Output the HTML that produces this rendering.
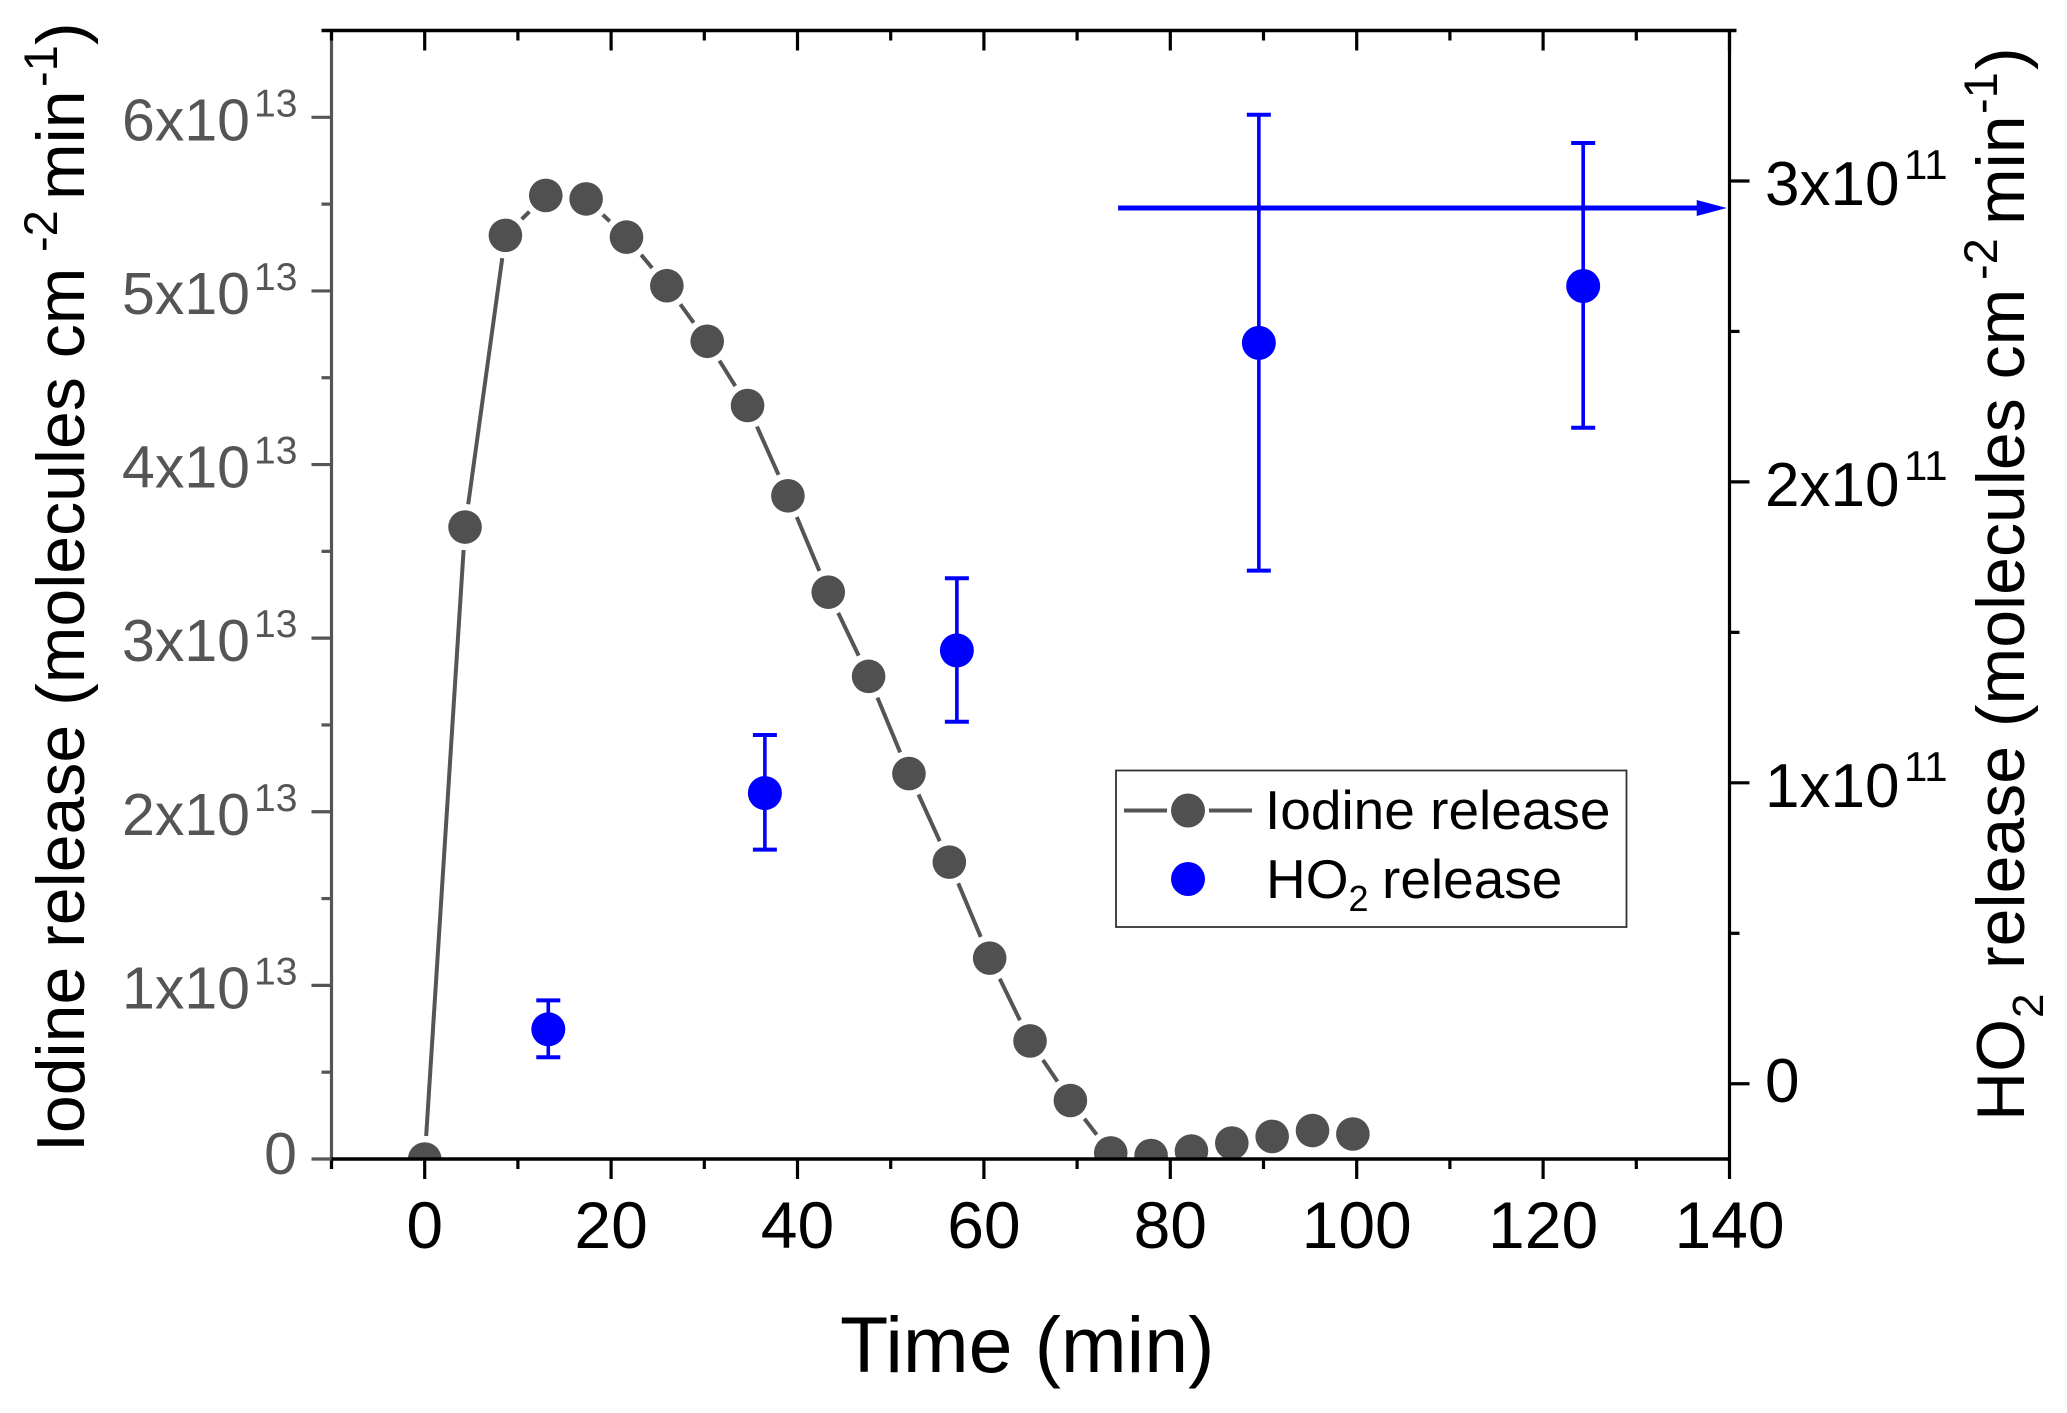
<!DOCTYPE html>
<html lang="en">
<head>
<meta charset="utf-8">
<title>Iodine and HO2 release versus time</title>
<style>
html,body{margin:0;padding:0;background:#fff;}
svg{display:block;font-family:"Liberation Sans",sans-serif;}
</style>
</head>
<body>
<svg id="chart" width="2067" height="1413" viewBox="0 0 2067 1413" xmlns="http://www.w3.org/2000/svg">
  <defs><clipPath id="plot-clip"><rect x="331" y="30" width="1399" height="1129"/></clipPath></defs>
  <rect x="0" y="0" width="2067" height="1413" fill="#fff"/>
  <g id="series-layer"></g>
  <g id="axes-layer"></g>

  <g>
    <rect x="1116" y="770.5" width="510.5" height="156.5" fill="#fff" stroke="#333" stroke-width="1.8"/>
    <line x1="1124" y1="810.5" x2="1167" y2="810.5" stroke="#555" stroke-width="4"/>
    <line x1="1209" y1="810.5" x2="1252" y2="810.5" stroke="#555" stroke-width="4"/>
    <circle cx="1188" cy="810.5" r="17" fill="#505050"/>
    <text x="1265" y="829" font-size="55" fill="#000">Iodine release</text>
    <circle cx="1188" cy="879" r="17" fill="#0000ff"/>
    <text x="1266" y="898" font-size="55" fill="#000">HO<tspan font-size="36" dy="13">2</tspan><tspan dy="-13" x="1382">release</tspan></text>
  </g>

  <text x="840" y="1372" font-size="79" fill="#000">Time (min)</text>

  <g transform="translate(84,1152) rotate(-90)" fill="#000">
    <text font-size="68" x="0" y="0">Iodine release (molecules cm</text>
    <text font-size="47" x="900" y="-27">-2</text>
    <text font-size="68" x="952" y="0">min</text>
    <text font-size="47" x="1065" y="-27">-1</text>
    <text font-size="68" x="1107" y="0">)</text>
  </g>

  <g transform="translate(2024,1121) rotate(-90)" fill="#000">
    <text font-size="68" x="0" y="0">HO</text>
    <text font-size="44" x="103" y="19">2</text>
    <text font-size="68" x="152" y="0">release (molecules cm</text>
    <text font-size="47" x="841" y="-27">-2</text>
    <text font-size="68" x="896" y="0">min</text>
    <text font-size="47" x="1007" y="-27">-1</text>
    <text font-size="68" x="1051" y="0">)</text>
  </g>
</svg>

<script>
const iodineTime = [0, 4.33, 8.66, 12.99, 17.32, 21.65, 25.98, 30.31, 34.64, 38.97, 43.3, 47.63, 51.96, 56.29, 60.62, 64.95, 69.28, 73.61, 77.94, 82.27, 86.6, 90.93, 95.26, 99.59];
const iodineRelease = [0, 3.64e13, 5.32e13, 5.55e13, 5.53e13, 5.31e13, 5.03e13, 4.71e13, 4.34e13, 3.82e13, 3.265e13, 2.78e13, 2.22e13, 1.71e13, 1.157e13, 0.68e13, 0.337e13, 0.035e13, 0.02e13, 0.046e13, 0.092e13, 0.13e13, 0.164e13, 0.144e13];
const ho2Time = [13.26, 36.5, 57.1, 89.5, 124.3];
const ho2Release = [0.181e11, 0.966e11, 1.44e11, 2.462e11, 2.651e11];
const ho2Upper = [0.277e11, 1.159e11, 1.68e11, 3.22e11, 3.126e11];
const ho2Lower = [0.088e11, 0.778e11, 1.203e11, 1.705e11, 2.18e11];
const xMajorTicks = [0, 20, 40, 60, 80, 100, 120, 140];
const xMinorTicks = [-10, 10, 30, 50, 70, 90, 110, 130];
const leftMajorTicks = [0, 1e13, 2e13, 3e13, 4e13, 5e13, 6e13];
const leftMinorTicks = [0.5e13, 1.5e13, 2.5e13, 3.5e13, 4.5e13, 5.5e13];
const leftMantissas = ['0', '1x10', '2x10', '3x10', '4x10', '5x10', '6x10'];
const rightMajorTicks = [0, 1e11, 2e11, 3e11];
const rightMinorTicks = [0.5e11, 1.5e11, 2.5e11];
const rightMantissas = ['0', '1x10', '2x10', '3x10'];
const leftExponent = '13';
const rightExponent = '11';
const arrowLevel = 2.91e11;
const arrowStartTime = 74.4;
const arrowEndTime = 139.7;

const PLOT = {left: 331.5, right: 1729.5, top: 30.5, bottom: 1159};
const xDomain = [-10, 140];
const leftDomain = [0, 6.5e13];
const rightDomain = [-0.25e11, 3.5e11];

function xScale(v) { return PLOT.left + (v - xDomain[0]) / (xDomain[1] - xDomain[0]) * (PLOT.right - PLOT.left); }
function yLeft(v) { return PLOT.bottom - (v - leftDomain[0]) / (leftDomain[1] - leftDomain[0]) * (PLOT.bottom - PLOT.top); }
function yRight(v) { return PLOT.bottom - (v - rightDomain[0]) / (rightDomain[1] - rightDomain[0]) * (PLOT.bottom - PLOT.top); }

const NS = 'http://www.w3.org/2000/svg';
const seriesLayer = document.getElementById('series-layer');
const axesLayer = document.getElementById('axes-layer');

function make(parent, tag, props, text) {
  const node = document.createElementNS(NS, tag);
  for (const key in props) node.setAttribute(key, props[key]);
  if (text !== undefined) node.textContent = text;
  parent.appendChild(node);
  return node;
}

const GREY = '#555555';
const MARKER_GREY = '#505050';
const BLUE = '#0000ff';
const GAP = 23;

/* iodine line with Origin-style gaps around markers */
const iodineGroup = make(seriesLayer, 'g', {'clip-path': 'url(#plot-clip)'});


for (let i = 0; i < iodineTime.length - 1; i++) {
  const x1 = xScale(iodineTime[i]), y1 = yLeft(iodineRelease[i]);
  const x2 = xScale(iodineTime[i + 1]), y2 = yLeft(iodineRelease[i + 1]);
  const d = Math.hypot(x2 - x1, y2 - y1);
  if (d <= 2 * GAP) continue;
  const ux = (x2 - x1) / d, uy = (y2 - y1) / d;
  const seg = make(iodineGroup, 'line', {x1: x1 + ux * GAP, y1: y1 + uy * GAP, x2: x2 - ux * GAP, y2: y2 - uy * GAP, stroke: GREY, 'stroke-width': 4});
  
  
}
iodineTime.forEach((t, i) => {
  const point = make(iodineGroup, 'circle', {cx: xScale(t), cy: yLeft(iodineRelease[i]), r: 16.8, fill: MARKER_GREY});
  
  
});

/* HO2 points with error bars */
const ho2Group = make(seriesLayer, 'g', {});


ho2Time.forEach((t, i) => {
  const x = xScale(t), yTop = yRight(ho2Upper[i]), yBot = yRight(ho2Lower[i]);
  const stem = make(ho2Group, 'line', {x1: x, y1: yTop, x2: x, y2: yBot, stroke: BLUE, 'stroke-width': 3.6});
  
  
  const capTop = make(ho2Group, 'line', {x1: x - 12, y1: yTop, x2: x + 12, y2: yTop, stroke: BLUE, 'stroke-width': 4});
  
  
  const capBot = make(ho2Group, 'line', {x1: x - 12, y1: yBot, x2: x + 12, y2: yBot, stroke: BLUE, 'stroke-width': 4});
  
  
  const point = make(ho2Group, 'circle', {cx: x, cy: yRight(ho2Release[i]), r: 17, fill: BLUE});
  
  
});

/* arrow pointing at the right axis */
const arrowY = yRight(arrowLevel);
const arrowTipX = xScale(arrowEndTime);
const arrowLine = make(seriesLayer, 'line', {x1: xScale(arrowStartTime), y1: arrowY, x2: arrowTipX - 25, y2: arrowY, stroke: BLUE, 'stroke-width': 5});


const arrowHead = make(seriesLayer, 'polygon', {points: (arrowTipX - 30) + ',' + (arrowY - 8) + ' ' + arrowTipX + ',' + arrowY + ' ' + (arrowTipX - 30) + ',' + (arrowY + 8), fill: BLUE});



/* axis lines */
const leftSpine = make(axesLayer, 'line', {x1: PLOT.left, y1: PLOT.top - 1.5, x2: PLOT.left, y2: PLOT.bottom + 10, stroke: GREY, 'stroke-width': 3.2});


const rightSpine = make(axesLayer, 'line', {x1: PLOT.right, y1: PLOT.top - 1.5, x2: PLOT.right, y2: PLOT.bottom + 1.5, stroke: '#000', 'stroke-width': 3.2});


const topSpine = make(axesLayer, 'line', {x1: PLOT.left - 10, y1: PLOT.top, x2: PLOT.right + 7, y2: PLOT.top, stroke: '#000', 'stroke-width': 3.6});


const bottomSpine = make(axesLayer, 'line', {x1: PLOT.left, y1: PLOT.bottom, x2: PLOT.right + 1.5, y2: PLOT.bottom, stroke: '#000', 'stroke-width': 3.6});



/* x ticks: bottom outward, top inward */
function drawXTick(v, len) {
  const x = xScale(v);
  const bottomTick = make(axesLayer, 'line', {x1: x, y1: PLOT.bottom, x2: x, y2: PLOT.bottom + len, stroke: '#000', 'stroke-width': 3.2});
  
  
  const topTick = make(axesLayer, 'line', {x1: x, y1: PLOT.top, x2: x, y2: PLOT.top + len, stroke: '#000', 'stroke-width': 3.2});
  
  
}
xMajorTicks.forEach(v => drawXTick(v, 20));
xMinorTicks.forEach(v => drawXTick(v, 10));
xMajorTicks.forEach(v => {
  const label = make(axesLayer, 'text', {x: xScale(v), y: 1248, 'font-size': 66, 'text-anchor': 'middle', fill: '#000'}, String(v));
  
  
});

/* left y ticks */
function drawLeftTick(v, len) {
  const y = yLeft(v);
  const tick = make(axesLayer, 'line', {x1: PLOT.left - len, y1: y, x2: PLOT.left, y2: y, stroke: GREY, 'stroke-width': 3.2});
  
  
}
leftMajorTicks.forEach(v => drawLeftTick(v, 20));
leftMinorTicks.forEach(v => drawLeftTick(v, 10));
leftMajorTicks.forEach((v, i) => {
  const y = yLeft(v);
  if (v === 0) {
    const zero = make(axesLayer, 'text', {x: 297, y: y + 15, 'font-size': 59, 'text-anchor': 'end', fill: GREY}, leftMantissas[i]);
    
    
    return;
  }
  const mantissa = make(axesLayer, 'text', {x: 250, y: y + 23, 'font-size': 59, 'text-anchor': 'end', fill: GREY}, leftMantissas[i]);
  
  
  const exponent = make(axesLayer, 'text', {x: 254, y: y - 1, 'font-size': 39, fill: GREY}, leftExponent);
  
  
});

/* right y ticks */
function drawRightTick(v, len) {
  const y = yRight(v);
  const tick = make(axesLayer, 'line', {x1: PLOT.right, y1: y, x2: PLOT.right + len, y2: y, stroke: '#000', 'stroke-width': 3.2});
  
  
}
rightMajorTicks.forEach(v => drawRightTick(v, 20));
rightMinorTicks.forEach(v => drawRightTick(v, 10));
rightMajorTicks.forEach((v, i) => {
  const y = yRight(v);
  const mantissa = make(axesLayer, 'text', {x: 1765, y: y + (v === 0 ? 18 : 24), 'font-size': 62, fill: '#000'}, rightMantissas[i]);
  
  
  if (v !== 0) {
    const exponent = make(axesLayer, 'text', {x: 1904, y: y - 2, 'font-size': 42, fill: '#000'}, rightExponent);
    
    
  }
});
</script>
</body>
</html>
